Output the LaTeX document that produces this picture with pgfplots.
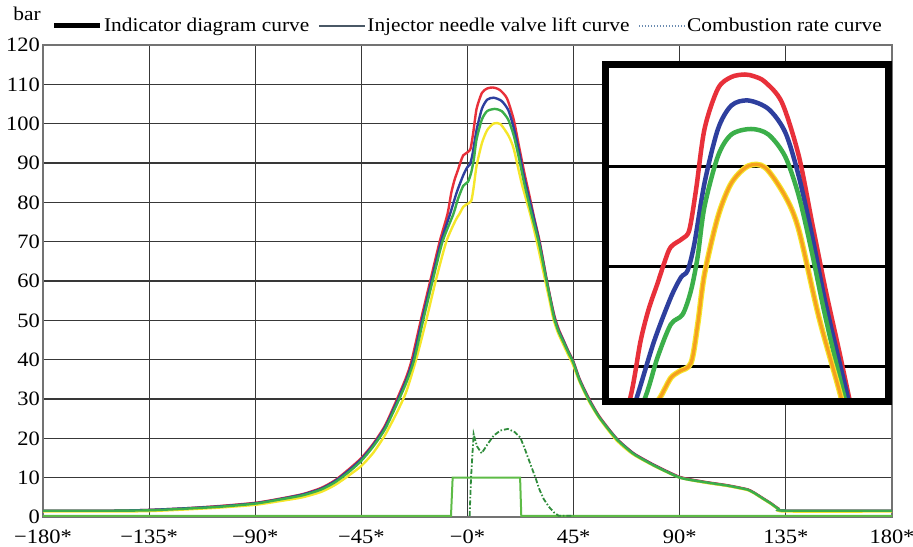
\documentclass[border=0pt]{standalone}
\usepackage{fontspec}
\setmainfont{Liberation Serif}[FakeStretch=1.1]
\usepackage{pgfplots}
\pgfplotsset{compat=1.18}
\definecolor{cR}{HTML}{E8303A}
\definecolor{cB}{HTML}{2E3F9E}
\definecolor{cG}{HTML}{3BAF4A}
\definecolor{cY}{HTML}{F5E62A}
\definecolor{cO}{HTML}{F5A01E}
\definecolor{cLift}{HTML}{5DBB46}
\definecolor{cSlate}{HTML}{4A5866}
\definecolor{cDot}{HTML}{6A8BB0}

\pgfplotstableread{
x y
-180 1.6
-150 1.6
-135 1.8
-120 2.2
-105 2.8
-90 3.6
-80 4.6
-70 5.8
-62 7.4
-56 9.4
-50 12.3
-45 15.0
-40 18.6
-35 23.2
-30 29.8
-26 35.5
-23.6 40
-19.8 50
-15.8 60
-11.8 70
-8.5 77
-6.85 82.5
-5.5 85.7
-4.04 88.25
-2.8 90.5
-1.79 91.95
0.18 92.8
1.3 93.65
2.43 97.7
3.84 103.75
6.09 107.8
8.33 108.95
10.58 109.2
12.2 109.0
13.95 108.45
16.76 106.4
19.58 101.05
21.82 94.3
24.07 87.6
26.33 81.5
28.3 76
30.6 70
33.7 60
35.4 55
37 50.8
38.7 47.7
40.6 45.1
42.6 42.4
44.8 39.7
47.6 35
51.6 30
56 25.5
63.2 20
70 16.4
75 14.6
80 13
90 10.2
100 9.0
110 8.1
116 7.4
119 7.0
121.6 6.2
125 4.9
128.7 3.5
132 2.1
135 1.6
180 1.6
}\red

\pgfplotstableread{
x y
-180 1.6
-150 1.6
-135 1.8
-120 2.2
-105 2.7
-90 3.5
-80 4.5
-70 5.7
-62 7.2
-56 9.2
-50 12.0
-45 14.7
-40 18.3
-35 22.8
-30 29.2
-26 34.8
-23.1 40
-19.3 50
-15.3 60
-11.2 70
-7.41 77
-4.59 82.5
-1.79 86.9
-0.1 88.9
1.02 89.6
2.15 92.3
3.84 98.35
6.09 103.75
8.33 106.1
11.13 106.6
14.52 105.75
17.33 103.4
19.58 99.0
21.82 93.0
24.07 86.25
27.73 77.0
30.5 69.8
33.6 60
35.3 55
36.9 50.6
38.6 47.5
40.6 44.9
42.6 42.2
44.8 39.5
47.6 34.8
51.6 29.8
56 25.3
63.2 19.9
70 16.3
75 14.5
80 12.9
90 10.1
100 8.9
110 8.0
116 7.3
119 6.9
121.6 6.1
125 4.8
128.7 3.4
132 2.0
135 1.6
180 1.6
}\blue

\pgfplotstableread{
x y
-180 1.6
-150 1.6
-135 1.7
-120 2.1
-105 2.6
-90 3.4
-80 4.4
-70 5.5
-62 7.0
-56 8.9
-50 11.6
-45 14.3
-40 17.9
-35 22.3
-30 28.6
-26 34.1
-22.6 40
-18.8 50
-14.8 60
-10.6 70
-6.0 77.0
-4.04 80.85
-1.8 84.2
0.18 85.2
1.58 87.6
2.7 91
3.84 96
6.09 101.05
8.33 103.2
11.6 103.75
14.5 103.2
17.3 101
19.6 97.0
21.8 91.3
24 85
27.16 77
30.3 69.6
33.5 60
35.2 55
36.8 50.4
38.5 47.3
40.5 44.7
42.6 42.0
44.8 39.3
47.6 34.6
51.6 29.6
56 25.2
63.2 19.8
70 16.2
75 14.4
80 12.8
90 10.0
100 8.9
110 8.0
116 7.3
119 6.9
121.6 6.1
125 4.8
128.7 3.4
132 2.0
135 1.6
180 1.6
}\green

\pgfplotstableread{
x y
-180 1.4
-150 1.4
-135 1.5
-120 1.9
-105 2.4
-90 3.1
-80 4.0
-70 5.0
-62 6.4
-56 8.2
-50 10.7
-45 13.0
-40 16.3
-35 20.8
-30 26.5
-26 31.8
-21.8 40
-17.5 50
-13.5 60
-9.0 70
-5 75.5
-3.47 77.0
-1.79 78.85
-0.39 79.5
1.58 80.35
2.7 84.2
3.84 89.25
6.09 95
8.33 98.35
11.13 100.05
13.95 99.9
17.33 97.0
19.58 93.65
22.95 84.9
26.6 77.0
29.6 69.5
33.0 60
34.8 55
36.4 50.4
38.2 47.1
40.2 44.4
42.4 41.6
44.6 38.9
47.5 34.4
51.5 29.4
56 25
63 19.6
70 16
80 12.7
90 10
100 8.8
110 7.9
116 7.2
119 6.8
121.6 6.0
125 4.7
128.7 3.3
132 1.9
135 1.4
180 1.4
}\yellow

\pgfplotstableread{
x y
-180 0.3
-7.0 0.3
-6.3 10
22.3 10
22.8 0.3
180 0.3
}\lift

\pgfplotstableread{
x y
0.9 0.3
1.5 10
2.6 21.1
4 18
6 16.2
8.5 18.5
11.1 20.7
14 22
17.1 22.4
20 21.6
22.4 20.2
24.2 17.5
25.9 14.7
28.8 10
30.5 7
32.3 4.6
34.5 2.6
36.6 1.2
38.7 0.3
45 0.3
}\comb

\begin{document}
\fontsize{19.5}{21}\selectfont
\begin{tikzpicture}
\useasboundingbox (0,0) rectangle (913bp,547bp);
\begin{axis}[
  at={(43bp,30bp)}, anchor=south west,
  scale only axis, width=849bp, height=472bp,
  xmin=-180, xmax=180, ymin=0, ymax=120,
  xtick={-180,-135,...,180},
  xticklabels={−180*,−135*,−90*,−45*,−0*,45*,90*,135*,180*},
  ytick={0,10,...,120},
  /pgf/number format/assume math mode=true,
  grid=major,
  major grid style={draw=black!78, line width=1.1bp},
  axis line style={draw=black!55, line width=1.3bp},
  tick style={draw=none},
  ticklabel style={font=\fontsize{20.5}{22}\selectfont},
  xticklabel style={inner sep=0pt, yshift=-12.5bp},
  yticklabel style={inner sep=0pt, xshift=-3bp},
  legend style={at={(0.5,1)}, anchor=south, yshift=9bp, draw=none, fill=none,
    inner sep=0pt, nodes={inner sep=1.5bp},
    /tikz/every even column/.append style={column sep=7bp}},
  legend columns=-1,
  legend cell align=left,
  legend image code/.code={\draw[#1] (0bp,0bp) -- (46bp,0bp);},
]
\addlegendimage{black, line width=5bp}
\addlegendentry{Indicator diagram curve}
\addlegendimage{cSlate, line width=2bp}
\addlegendentry{Injector needle valve lift curve}
\addlegendimage{cDot, line width=1.6bp, dash pattern=on 1.5bp off 1.5bp}
\addlegendentry{Combustion rate curve}

\addplot[forget plot, cLift, line width=2bp] table {\lift};
\addplot[forget plot, cG!80!black, line width=1.8bp, dash pattern=on 5bp off 2bp on 1.5bp off 2bp] table {\comb};
\addplot[forget plot, cR, line width=2.4bp, smooth, tension=0.4] table {\red};
\addplot[forget plot, cB, line width=2.4bp, smooth, tension=0.4] table {\blue};
\addplot[forget plot, cY, line width=2.4bp, smooth, tension=0.4] table {\yellow};
\addplot[forget plot, cG, line width=2.4bp, smooth, tension=0.4] table {\green};
\end{axis}

\begin{axis}[
  name=inset,
  at={(605bp,145bp)}, anchor=south west,
  scale only axis, width=283bp, height=337bp,
  xmin=-12.77, xmax=34.47, ymin=76.45, ymax=110.15,
  axis line style={draw=none},
  xtick=\empty, ytick={80,90,100}, yticklabels={},
  ymajorgrids,
  major grid style={black, line width=2.6bp},
  tick style={draw=none},
  axis background/.style={fill=white},
]
\addplot[cR, line width=4.5bp, smooth, tension=0.5] table {\red};
\addplot[cB, line width=4.5bp, smooth, tension=0.5] table {\blue};
\addplot[cG, line width=4.5bp, smooth, tension=0.5] table {\green};
\addplot[cY, line width=5.5bp, smooth, tension=0.5] table {\yellow};
\addplot[cO, line width=3.2bp, smooth, tension=0.5] table {\yellow};
\end{axis}
\draw[black, line width=7bp, line join=miter] (inset.south west) rectangle (inset.north east);
\node at (27bp,533bp) {bar};
\end{tikzpicture}
\end{document}
